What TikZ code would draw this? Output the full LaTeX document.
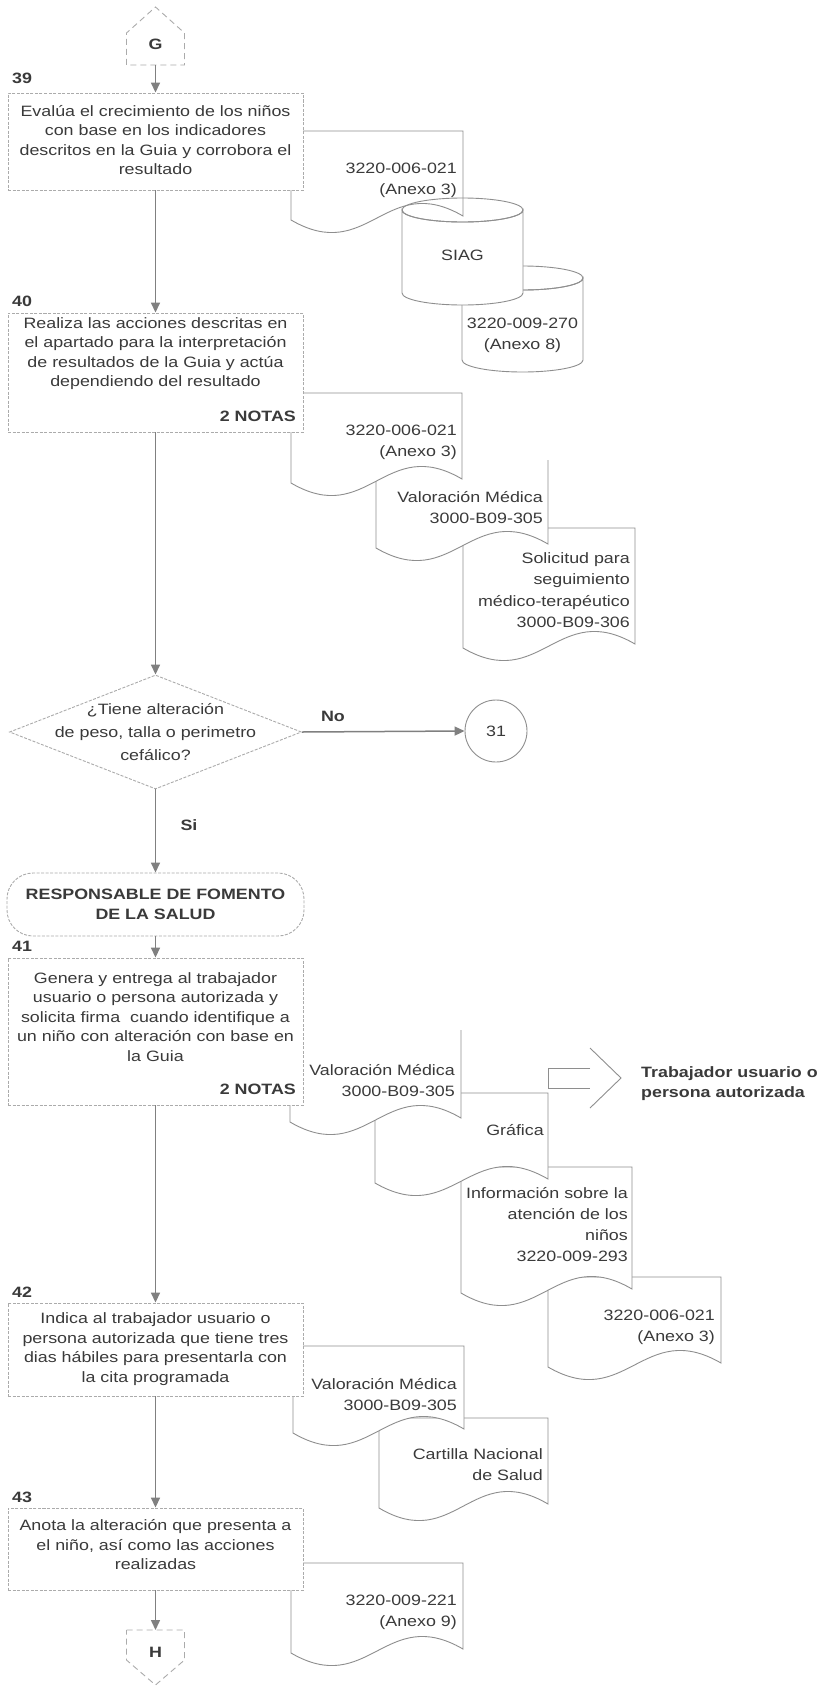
\documentclass[tikz,border=0pt]{standalone}
\usepackage{fontspec}
\setmainfont[FakeStretch=1.19]{Liberation Sans}
\usetikzlibrary{shapes.geometric,arrows.meta}

\definecolor{ink}{HTML}{3A3A3A}
\definecolor{wire}{HTML}{808080}
\definecolor{frame}{HTML}{ABABAB}
\definecolor{docl}{HTML}{8E8E8E}

\tikzset{
  procbox/.style={draw=frame, line width=0.9pt, dash pattern=on 3pt off 1.5pt,
    fill=white, minimum width=295pt, inner sep=0pt},
  txt/.style={text=ink, inner sep=0pt, align=center,
    font=\fontsize{15}{19.5}\selectfont},
  doctxt/.style={text=ink, inner sep=0pt, align=right, anchor=east,
    font=\fontsize{15}{21}\selectfont},
  boldtxt/.style={text=ink, inner sep=0pt,
    font=\fontsize{15}{20}\selectfont\bfseries},
  flow/.style={draw=wire, line width=1.5pt,
    -{Triangle[length=10pt,width=9pt]}},
  conn/.style={draw=frame, line width=0.9pt, dash pattern=on 6pt off 4pt},
  docline/.style={draw=docl, line width=0.9pt, fill=white},
}

% document symbol with a wavy bottom edge: left, top, right, bottom
\newcommand{\docshape}[4]{%
  \filldraw[docline] (#1,#2) -- (#3,#2) -- (#3,{#4-4})
    .. controls ({#1+0.55*(#3-#1)},{#4-49}) and ({#1+0.45*(#3-#1)},{#4+45}) ..
    (#1,#4) -- cycle;}
% the same symbol with its top edge left out
\newcommand{\docopen}[4]{%
  \fill[white] (#1,#2) -- (#3,#2) -- (#3,{#4-4})
    .. controls ({#1+0.55*(#3-#1)},{#4-49}) and ({#1+0.45*(#3-#1)},{#4+45}) ..
    (#1,#4) -- cycle;
  \draw[docl, line width=0.9pt] (#3,#2) -- (#3,{#4-4})
    .. controls ({#1+0.55*(#3-#1)},{#4-49}) and ({#1+0.45*(#3-#1)},{#4+45}) ..
    (#1,#4) -- (#1,#2);}
% stored-data cylinder: centre x, half width, top y, bottom y, ellipse half height
\newcommand{\cylshape}[5]{%
  \filldraw[docline] ({#1-#2},#3) -- ({#1-#2},#4)
    .. controls ({#1-#2},{#4+0.5523*#5}) and ({#1-0.5523*#2},{#4+#5}) .. (#1,{#4+#5})
    .. controls ({#1+0.5523*#2},{#4+#5}) and ({#1+#2},{#4+0.5523*#5}) .. ({#1+#2},#4)
    -- ({#1+#2},#3)
    .. controls ({#1+#2},{#3+0.5523*#5}) and ({#1+0.5523*#2},{#3+#5}) .. (#1,{#3+#5})
    .. controls ({#1-0.5523*#2},{#3+#5}) and ({#1-#2},{#3+0.5523*#5}) .. ({#1-#2},#3)
    -- cycle;
  \draw[docl, line width=0.9pt] (#1,#3) ellipse [x radius=#2, y radius=#5];}

\begin{document}
\begin{tikzpicture}[x=1pt,y=-1pt]
\useasboundingbox (0,0) rectangle (820,1686);
\fill[white] (0,0) rectangle (820,1686);

% ---------- off-page connector G ----------
\draw[conn] (126.5,65) -- (126.5,33) -- (155.5,7) -- (184.5,33) -- (184.5,65) -- cycle;
\node[boldtxt] (gtxt) at (155.5,44) {G};
\coordinate (gbot) at (155.5,65);

% ---------- step 39 ----------
\docshape{291}{131}{463}{220}
\node[procbox, minimum height=97pt] (b39) at (155.5,141.5) {};
\node[txt] (t39) at (155.5,140) {Evalúa el crecimiento de los niños\\con base en los indicadores\\descritos en la Guia y corrobora el\\resultado};
\node[boldtxt, anchor=west] (n39) at (12,78) {39};
\node[doctxt] (d39a) at (457,180) {3220-006-021\\(Anexo 3)};
\cylshape{522.5}{60.5}{278}{360}{12}
\cylshape{462.5}{60.5}{210}{293}{12}
\node[txt] (siag) at (462.5,255) {SIAG};
\node[txt, font=\fontsize{15}{21}\selectfont] (d39c) at (522.5,335) {3220-009-270\\(Anexo 8)};

% ---------- step 40 ----------
\docshape{463}{528}{635}{648}
\docopen{376}{460}{548}{548}
\docshape{291}{393}{462}{483}
\node[procbox, minimum height=119pt] (b40) at (155.5,372.5) {};
\node[txt] (t40) at (155.5,353.5) {Realiza las acciones descritas en\\el apartado para la interpretación\\de resultados de la Guia y actúa\\dependiendo del resultado};
\node[boldtxt, anchor=east] (m40) at (296,416) {2 NOTAS};
\node[boldtxt, anchor=west] (n40) at (12,301) {40};
\node[doctxt] (d40a) at (457,442.5) {3220-006-021\\(Anexo 3)};
\node[doctxt] (d40b) at (543,507.5) {Valoración Médica\\3000-B09-305};
\node[doctxt, font=\fontsize{15}{21.5}\selectfont] (d40c) at (630,590) {Solicitud para\\seguimiento\\médico-terapéutico\\3000-B09-306};

% ---------- decision ----------
\node[diamond, draw=frame, line width=0.9pt, dash pattern=on 3pt off 1.5pt,
  minimum width=292pt, minimum height=114pt, inner sep=0pt] (q) at (155.5,732) {};
\node[txt, font=\fontsize{15}{23}\selectfont] (qt) at (155.5,732) {¿Tiene alteración\\de peso, talla o perimetro\\cefálico?};
\node[circle, draw=docl, line width=0.9pt, minimum size=62pt, inner sep=0pt,
  text=ink, font=\fontsize{15}{18}\selectfont] (c31) at (496,731) {31};
\node[boldtxt] (no) at (333,716) {No};
\node[boldtxt] (si) at (189,825) {Si};

% ---------- responsible terminator ----------
\node[draw=frame, line width=0.9pt, dash pattern=on 3pt off 1.5pt, rounded corners=26pt,
  minimum width=297pt, minimum height=63pt, inner sep=0pt] (term) at (155.5,904.5) {};
\node[boldtxt, align=center] (termt) at (155.5,904.5) {RESPONSABLE DE FOMENTO\\DE LA SALUD};

% ---------- step 41 ----------
\docshape{548}{1277}{721}{1367}
\docshape{461}{1167}{632}{1293}
\docshape{375}{1093}{548}{1183}
\draw[docl, line width=0.9pt] (590,1068) -- (548,1068) -- (548,1088) -- (590,1088);
\draw[docl, line width=0.9pt] (590,1048) -- (621,1078) -- (590,1108);
\docopen{290}{1030}{461}{1122}
\node[procbox, minimum height=147pt] (b41) at (155.5,1031.5) {};
\node[txt] (t41) at (155.5,1017) {Genera y entrega al trabajador\\usuario o persona autorizada y\\solicita firma\ \ cuando identifique a\\un niño con alteración con base en\\la Guia};
\node[boldtxt, anchor=east] (m41) at (296,1089) {2 NOTAS};
\node[boldtxt, anchor=west] (n41) at (12,946) {41};
\node[doctxt] (d41a) at (455,1081) {Valoración Médica\\3000-B09-305};
\node[doctxt] (d41b) at (544,1130) {Gráfica};
\node[doctxt] (d41c) at (628,1224.5) {Información sobre la\\atención de los\\niños\\3220-009-293};
\node[doctxt] (d41d) at (715,1327.5) {3220-006-021\\(Anexo 3)};
\node[boldtxt, anchor=west, align=left] (dest) at (641,1084) {Trabajador usuario o\\persona autorizada};

% ---------- step 42 ----------
\docshape{379}{1418}{548}{1508}
\docshape{293}{1346}{464}{1433}
\node[procbox, minimum height=93pt] (b42) at (155.5,1349.5) {};
\node[txt] (t42) at (155.5,1349) {Indica al trabajador usuario o\\persona autorizada que tiene tres\\dias hábiles para presentarla con\\la cita programada};
\node[boldtxt, anchor=west] (n42) at (12,1292) {42};
\node[doctxt] (d42a) at (457,1395) {Valoración Médica\\3000-B09-305};
\node[doctxt] (d42b) at (543,1464.5) {Cartilla Nacional\\de Salud};

% ---------- step 43 ----------
\docshape{291}{1563}{463}{1653}
\node[procbox, minimum height=82pt] (b43) at (155.5,1549) {};
\node[txt] (t43) at (155.5,1545) {Anota la alteración que presenta a\\el niño, así como las acciones\\realizadas};
\node[boldtxt, anchor=west] (n43) at (12,1497) {43};
\node[doctxt] (d43a) at (457,1612) {3220-009-221\\(Anexo 9)};

% ---------- off-page connector H ----------
\draw[conn] (126.5,1630) -- (184.5,1630) -- (184.5,1660) -- (155.5,1685) -- (126.5,1660) -- cycle;
\node[boldtxt] (htxt) at (155.5,1652) {H};
\coordinate (htop) at (155.5,1630);

% ---------- flow connectors ----------
\draw[flow] (gbot) -- (b39.north);
\draw[flow] (b39.south) -- (b40.north);
\draw[flow] (b40.south) -- (q.north);
\draw[flow] (q.east) -- (c31.west);
\draw[flow] (q.south) -- (term.north);
\draw[flow] (term.south) -- (b41.north);
\draw[flow] (b41.south) -- (b42.north);
\draw[flow] (b42.south) -- (b43.north);
\draw[flow] (b43.south) -- (htop);
\end{tikzpicture}
\end{document}
